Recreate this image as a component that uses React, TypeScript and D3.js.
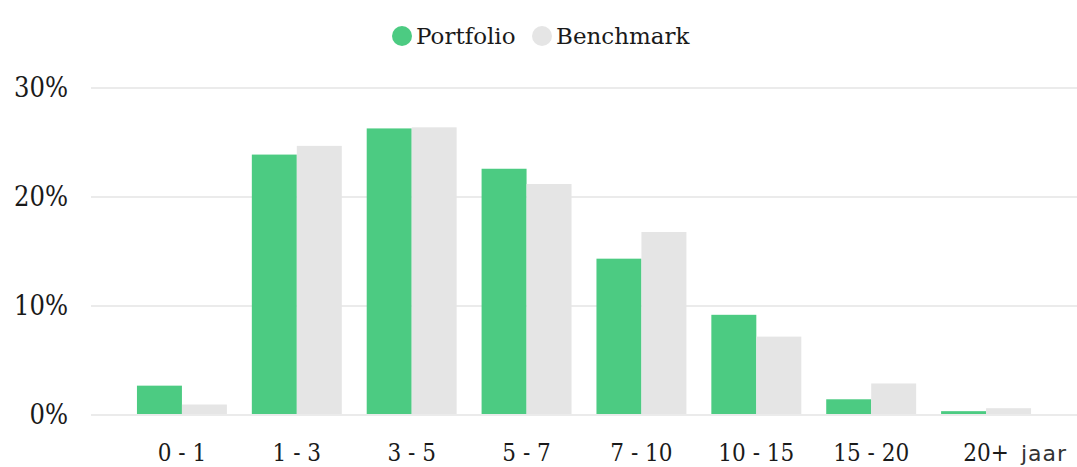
import React, { useEffect, useRef } from "react";
import * as d3 from "d3";

const categories = ["0 - 1", "1 - 3", "3 - 5", "5 - 7", "7 - 10", "10 - 15", "15 - 20", "20+"];
const portfolio = [2.6, 23.8, 26.2, 22.5, 14.25, 9.1, 1.35, 0.26];
const benchmark = [0.87, 24.6, 26.3, 21.1, 16.7, 7.1, 2.8, 0.53];
const seriesNames = ["Portfolio", "Benchmark"];
const yTicks = [0, 10, 20, 30];
const unitLabel = "jaar";

const WIDTH = 1077;
const HEIGHT = 467;
const FONT = "'DejaVu Serif Condensed', 'DejaVu Serif', serif";
const colors = ["#4ccb82", "#e5e5e5"];

const App = () => {
  const svgRef = useRef<SVGSVGElement>(null);

  useEffect(() => {
    if (!svgRef.current) return;
    const svg = d3.select(svgRef.current);
    svg.selectAll("*").remove();

    const left = 91;
    const right = WIDTH;
    const top = 87;
    const bottom = 414;

    const y = d3.scaleLinear().domain([0, 30]).range([bottom, top]);
    const x = d3
      .scaleBand<string>()
      .domain(categories)
      .range([left, right])
      .paddingInner(0.217)
      .paddingOuter(0.4);
    const sub = d3.scaleBand<string>().domain(seriesNames).range([0, x.bandwidth()]);

    // grid lines
    svg
      .append("g")
      .selectAll("line")
      .data(yTicks)
      .join("line")
      .attr("x1", left)
      .attr("x2", right)
      .attr("y1", (d) => y(d) + 1)
      .attr("y2", (d) => y(d) + 1)
      .attr("stroke", "#ebebeb")
      .attr("stroke-width", 2);

    // y labels
    svg
      .append("g")
      .selectAll("text")
      .data(yTicks)
      .join("text")
      .attr("x", 68)
      .attr("y", (d) => y(d) + 1)
      .attr("dy", "0.35em")
      .attr("text-anchor", "end")
      .attr("font-family", FONT)
      .attr("font-size", 27)
      .attr("fill", "#1a1a1a")
      .text((d) => `${d}%`);

    // bars
    const rows = categories.map((c, i) => ({ cat: c, values: [portfolio[i], benchmark[i]] }));
    svg
      .append("g")
      .selectAll("g")
      .data(rows)
      .join("g")
      .attr("transform", (d) => `translate(${x(d.cat)},0)`)
      .selectAll("rect")
      .data((d) => d.values.map((v, j) => ({ key: seriesNames[j], v, j })))
      .join("rect")
      .attr("x", (d) => sub(d.key) as number)
      .attr("width", sub.bandwidth())
      .attr("y", (d) => y(d.v))
      .attr("height", (d) => bottom - y(d.v))
      .attr("fill", (d) => colors[d.j]);

    // x labels
    svg
      .append("g")
      .selectAll("text")
      .data(categories)
      .join("text")
      .attr("x", (d) => (x(d) as number) + x.bandwidth() / 2)
      .attr("y", 461)
      .attr("text-anchor", "middle")
      .attr("font-family", FONT)
      .attr("font-size", 24)
      .attr("fill", "#1a1a1a")
      .text((d) => d);

    svg
      .append("text")
      .attr("x", 1021)
      .attr("y", 461)
      .attr("font-family", "'DejaVu Sans', sans-serif")
      .attr("font-size", 22)
      .attr("letter-spacing", 1)
      .attr("fill", "#333")
      .text(unitLabel);

    // legend
    const legendX = [402, 542];
    const legend = svg
      .append("g")
      .selectAll("g")
      .data(seriesNames)
      .join("g")
      .attr("transform", (d, i) => `translate(${legendX[i]},36)`);
    legend.append("circle").attr("r", 10).attr("fill", (d, i) => colors[i]);
    legend
      .append("text")
      .attr("x", 14)
      .attr("y", 7.5)
      .attr("font-family", "'DejaVu Serif', serif")
      .attr("font-size", 23)
      .attr("fill", "#1a1a1a")
      .text((d) => d);
  }, []);

  return (
    <div>
      <svg
        ref={svgRef}
        width={WIDTH}
        height={HEIGHT}
        style={{ position: "absolute", left: 0, top: 0, background: "#fff" }}
      />
    </div>
  );
};

export default App;
